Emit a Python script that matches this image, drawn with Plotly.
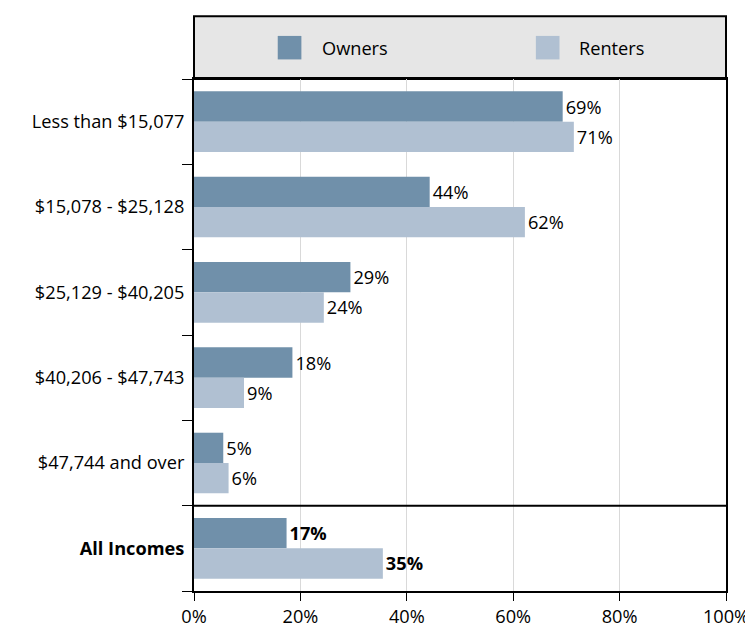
import plotly.graph_objects as go

categories = ["Less than $15,077", "$15,078 - $25,128", "$25,129 - $40,205",
              "$40,206 - $47,743", "$47,744 and over", "All Incomes"]
tick_labels = ["Less than $15,077", "$15,078 - $25,128", "$25,129 - $40,205",
               "$40,206 - $47,743", "$47,744 and over", "<b>All Incomes</b>"]
owners = [69.3, 44.3, 29.4, 18.5, 5.5, 17.4]
renters = [71.4, 62.2, 24.4, 9.4, 6.5, 35.5]
owner_labels = ["69%", "44%", "29%", "18%", "5%", "<b>17%</b>"]
renter_labels = ["71%", "62%", "24%", "9%", "6%", "<b>35%</b>"]
x_ticks = [0, 20, 40, 60, 80, 100]
x_tick_text = ["0%", "20%", "40%", "60%", "80%", "100%"]

OWN = "#7090aa"
REN = "#b0c0d2"
FONT = "Open Sans"
FS = 18.2

fig = go.Figure()
fig.add_trace(go.Bar(y=categories, x=owners, orientation="h", name="Owners",
                     marker=dict(color=OWN, line=dict(width=0)),
                     text=owner_labels, textposition="outside",
                     textfont=dict(color="black", size=FS, family=FONT),
                     cliponaxis=False))
fig.add_trace(go.Bar(y=categories, x=renters, orientation="h", name="Renters",
                     marker=dict(color=REN, line=dict(width=0)),
                     text=renter_labels, textposition="outside",
                     textfont=dict(color="black", size=FS, family=FONT),
                     cliponaxis=False))

W, H = 753, 632
ml, mr, mt, mb = 186, 27, 71, 38
pw = W - ml - mr
ph = H - mt - mb

def px(x):
    return (x - ml) / pw

def py(y):
    return 1 + (mt - y) / ph

shapes = [
    dict(type="rect", xref="paper", yref="paper", x0=0, x1=1, y0=1, y1=py(7),
         fillcolor="#e6e6e6", line=dict(color="black", width=2), layer="below"),
    dict(type="rect", xref="paper", yref="paper", x0=px(271), x1=px(295),
         y0=py(51), y1=py(27), fillcolor=OWN, line=dict(width=0)),
    dict(type="rect", xref="paper", yref="paper", x0=px(533), x1=px(557),
         y0=py(51), y1=py(27), fillcolor=REN, line=dict(width=0)),
    dict(type="line", xref="paper", yref="y", x0=0, x1=1, y0=4.5, y1=4.5,
         line=dict(color="black", width=2)),
]
annotations = [
    dict(text="Owners", xref="paper", yref="paper", x=px(314), y=py(39),
         xanchor="left", yanchor="middle", showarrow=False,
         font=dict(size=FS, color="black", family=FONT)),
    dict(text="Renters", xref="paper", yref="paper", x=px(575), y=py(39),
         xanchor="left", yanchor="middle", showarrow=False,
         font=dict(size=FS, color="black", family=FONT)),
]

fig.update_layout(
    width=W, height=H,
    margin=dict(l=ml, r=mr, t=mt, b=mb, pad=0),
    paper_bgcolor="white", plot_bgcolor="white",
    barmode="group", bargap=0.29, bargroupgap=0,
    showlegend=False,
    font=dict(family=FONT, size=FS, color="black"),
    shapes=shapes, annotations=annotations,
    xaxis=dict(range=[0, 100], tickvals=x_ticks, ticktext=x_tick_text,
               showgrid=True, gridcolor="#d9d9d9", gridwidth=1,
               showline=True, linecolor="black", linewidth=2, mirror=True,
               ticks="outside", ticklen=8, tickcolor="black", tickwidth=1,
               zeroline=False, tickfont=dict(size=FS)),
    yaxis=dict(categoryorder="array", categoryarray=categories,
               tickvals=categories, ticktext=tick_labels,
               autorange="reversed", tickson="boundaries",
               showline=True, linecolor="black", linewidth=2, mirror=True,
               ticks="outside", ticklen=10, tickcolor="black", tickwidth=1,
               ticklabelstandoff=4,
               showgrid=False, tickfont=dict(size=FS)),
)

fig.write_html("out.html")
